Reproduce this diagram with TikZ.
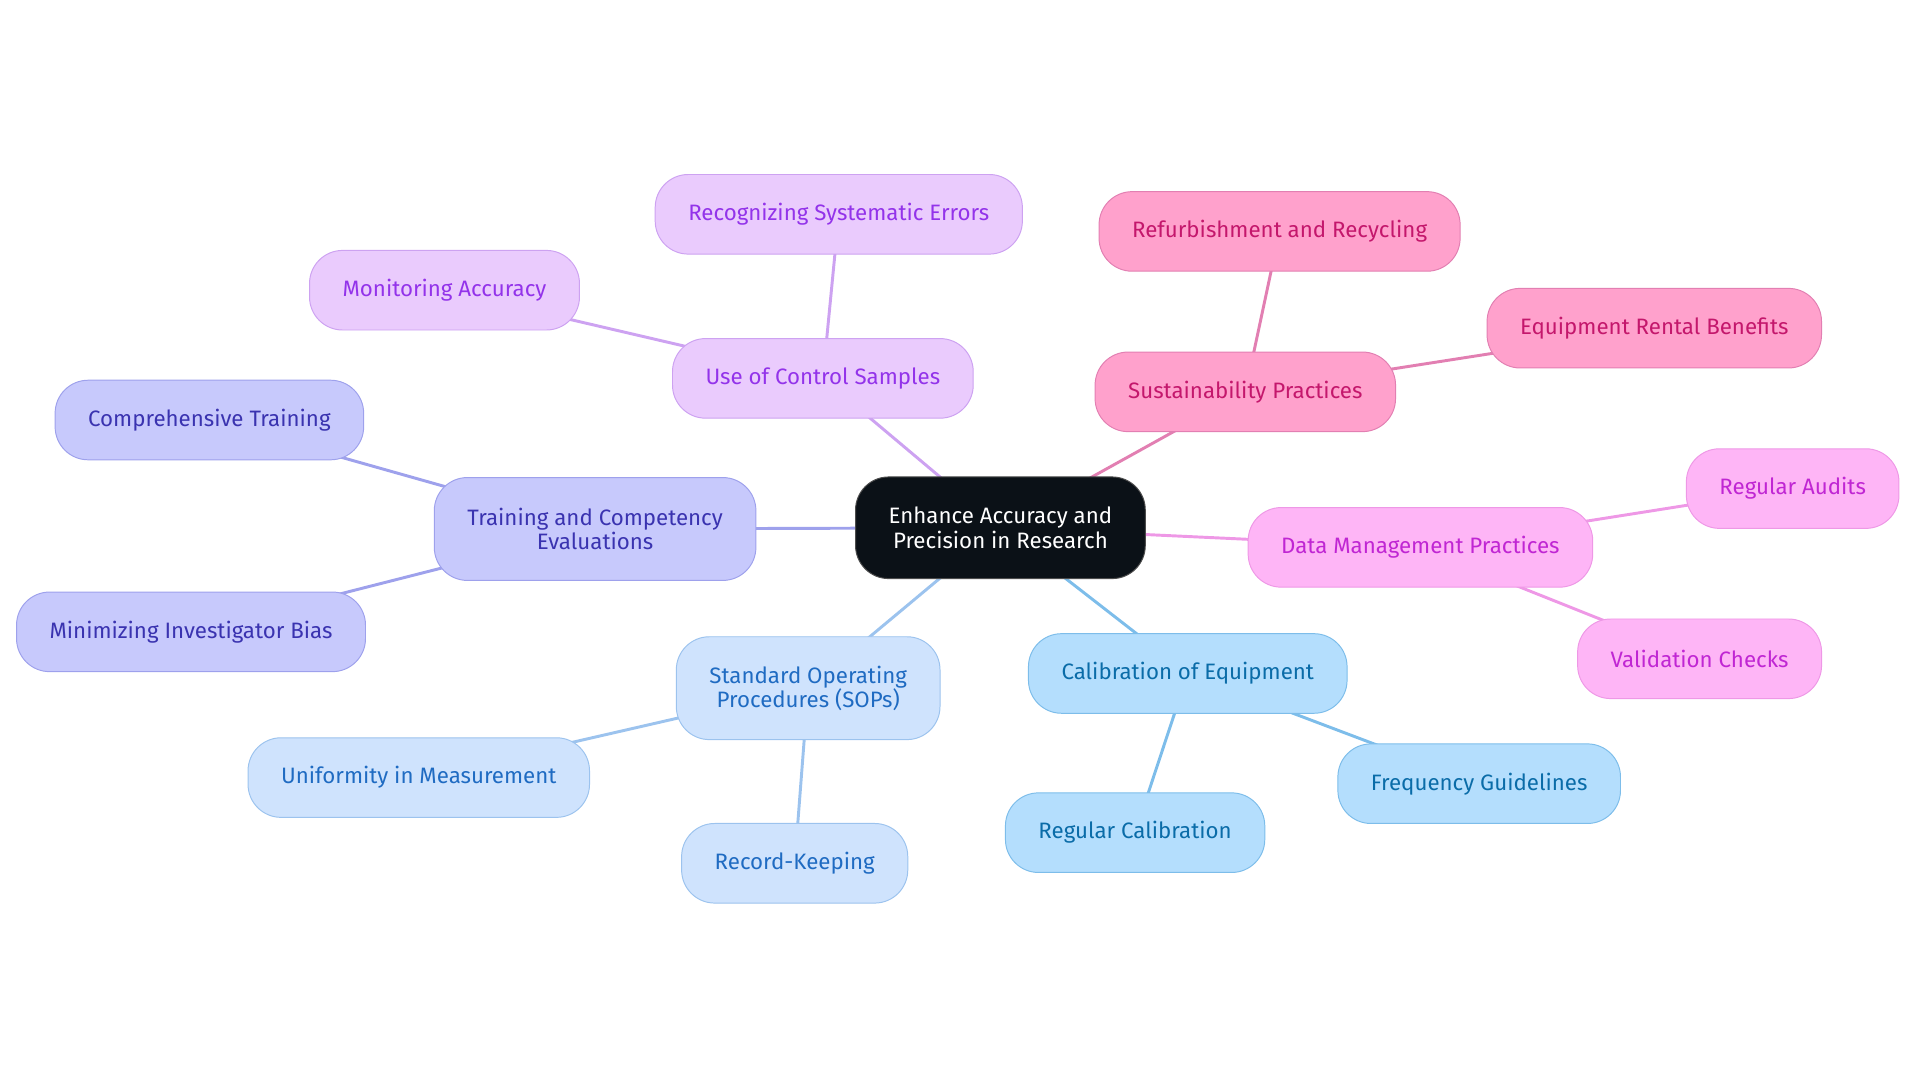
\documentclass[tikz,border=0pt]{standalone}
\usepackage{fontspec}
\setmainfont{Fira Sans}
\usetikzlibrary{positioning,backgrounds}

\definecolor{ctrfill}{HTML}{0B1117}
\definecolor{trfill}{HTML}{C7C9FC}
\definecolor{trline}{HTML}{9EA1EC}
\definecolor{trtext}{HTML}{3A33B0}
\definecolor{csfill}{HTML}{EACBFD}
\definecolor{csline}{HTML}{CDA2F1}
\definecolor{cstext}{HTML}{9333EA}
\definecolor{spfill}{HTML}{FFA1CC}
\definecolor{spline}{HTML}{E27FB2}
\definecolor{sptext}{HTML}{C4176C}
\definecolor{dmfill}{HTML}{FEB5F6}
\definecolor{dmline}{HTML}{EE98E6}
\definecolor{dmtext}{HTML}{C026D3}
\definecolor{cefill}{HTML}{B4DEFD}
\definecolor{celine}{HTML}{7DBDEA}
\definecolor{cetext}{HTML}{0A6CA8}
\definecolor{sofill}{HTML}{CFE3FD}
\definecolor{soline}{HTML}{9CC3EE}
\definecolor{sotext}{HTML}{1F6BC2}

\tikzset{
  pill/.style n args={3}{draw=#2, fill=#1, text=#3, line width=0.8pt,
    rounded corners=27pt, minimum height=65pt, inner xsep=27pt,
    align=center, font=\fontsize{18.2}{19.8}\selectfont},
  hub/.style={pill={ctrfill}{black!70}{white}, minimum height=83pt},
  tr/.style={pill={trfill}{trline}{trtext}},
  cs/.style={pill={csfill}{csline}{cstext}},
  sp/.style={pill={spfill}{spline}{sptext}},
  dm/.style={pill={dmfill}{dmline}{dmtext}},
  ce/.style={pill={cefill}{celine}{cetext}},
  so/.style={pill={sofill}{soline}{sotext}},
  link/.style={line width=2.4pt, draw=#1},
}

\begin{document}
\begin{tikzpicture}[x=1pt, y=1pt, on grid]

  \useasboundingbox (0,0) rectangle (1568,-884);

  % root
  \node[hub] (ctr) at (817,-431) {Enhance Accuracy and\\Precision in Research};

  % training
  \node[tr, left=331pt of ctr, yshift=-1pt, minimum height=84pt] (train) {Training and Competency\\Evaluations};
  \node[tr, above left=89pt and 315pt of train] (comp) {Comprehensive Training};
  \node[tr, below left=84pt and 330pt of train] (bias) {Minimizing Investigator Bias};

  % control samples
  \node[cs, above left=122pt and 145pt of ctr] (ctrl) {Use of Control Samples};
  \node[cs, above right=134pt and 13pt of ctrl] (syserr) {Recognizing Systematic Errors};
  \node[cs, above left=72pt and 309pt of ctrl] (monit) {Monitoring Accuracy};

  % sustainability
  \node[sp, above right=111pt and 200pt of ctr] (sust) {Sustainability Practices};
  \node[sp, above right=131pt and 28pt of sust] (refurb) {Refurbishment and Recycling};
  \node[sp, above right=52pt and 334pt of sust] (rental) {Equipment Rental Benefits};

  % data management
  \node[dm, below right=16pt and 343pt of ctr] (data) {Data Management Practices};
  \node[dm, above right=48pt and 304pt of data] (audit) {Regular Audits};
  \node[dm, below right=91pt and 228pt of data] (valid) {Validation Checks};

  % calibration
  \node[ce, below right=119pt and 153pt of ctr] (calib) {Calibration of Equipment};
  \node[ce, below left=130pt and 43pt of calib] (regcal) {Regular Calibration};
  \node[ce, below right=90pt and 238pt of calib] (freq) {Frequency Guidelines};

  % SOPs
  \node[so, below left=131pt and 157pt of ctr, minimum height=84pt] (sop) {Standard Operating\\Procedures (SOPs)};
  \node[so, below left=73pt and 318pt of sop] (unif) {Uniformity in Measurement};
  \node[so, below left=143pt and 11pt of sop] (record) {Record-Keeping};

  % links
  \begin{scope}[on background layer]
    \draw[link=trline] (ctr.center) -- (train.center);
    \foreach \k in {comp,bias} \draw[link=trline] (train.center) -- (\k.center);
    \draw[link=csline] (ctr.center) -- (ctrl.center);
    \foreach \k in {syserr,monit} \draw[link=csline] (ctrl.center) -- (\k.center);
    \draw[link=spline] (ctr.center) -- (sust.center);
    \foreach \k in {refurb,rental} \draw[link=spline] (sust.center) -- (\k.center);
    \draw[link=dmline] (ctr.center) -- (data.center);
    \foreach \k in {audit,valid} \draw[link=dmline] (data.center) -- (\k.center);
    \draw[link=celine] (ctr.center) -- (calib.center);
    \foreach \k in {regcal,freq} \draw[link=celine] (calib.center) -- (\k.center);
    \draw[link=soline] (ctr.center) -- (sop.center);
    \foreach \k in {unif,record} \draw[link=soline] (sop.center) -- (\k.center);
  \end{scope}

\end{tikzpicture}
\end{document}
